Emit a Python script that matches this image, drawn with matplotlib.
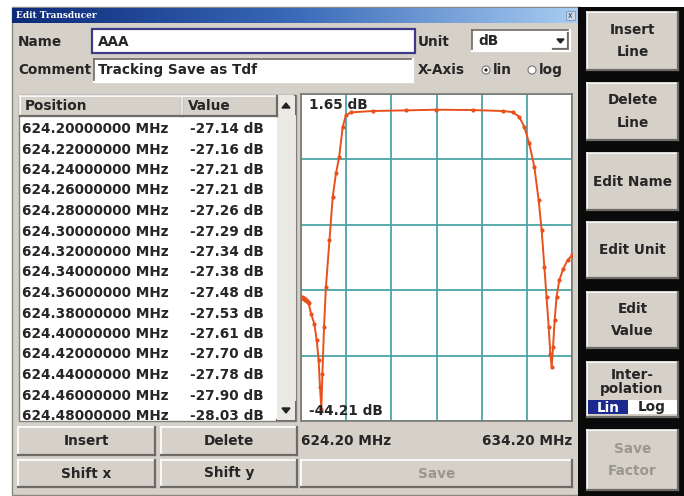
import matplotlib.pyplot as plt
import matplotlib.patches as patches
from matplotlib.colors import LinearSegmentedColormap
import numpy as np

# table rows shown in the list
positions = ["624.20000000 MHz", "624.22000000 MHz", "624.24000000 MHz", "624.26000000 MHz",
             "624.28000000 MHz", "624.30000000 MHz", "624.32000000 MHz", "624.34000000 MHz",
             "624.36000000 MHz", "624.38000000 MHz", "624.40000000 MHz", "624.42000000 MHz",
             "624.44000000 MHz", "624.46000000 MHz", "624.48000000 MHz"]
table_mhz = [624.20, 624.22, 624.24, 624.26, 624.28, 624.30, 624.32, 624.34,
             624.36, 624.38, 624.40, 624.42, 624.44, 624.46, 624.48]
table_db = [-27.14, -27.16, -27.21, -27.21, -27.26, -27.29, -27.34, -27.38,
            -27.48, -27.53, -27.61, -27.70, -27.78, -27.90, -28.03]

# rest of the transducer trace
trace_mhz = [624.57, 624.69, 624.78, 624.85, 624.90, 624.95, 624.99, 625.05, 625.12,
             625.25, 625.37, 625.49, 625.61, 625.74, 625.86, 626.05, 626.84, 628.07,
             629.18, 630.53, 631.64, 632.01, 632.25, 632.44, 632.62, 632.81, 632.97,
             633.08, 633.18, 633.26, 633.34, 633.40, 633.45, 633.50, 633.56, 633.63,
             633.73, 633.88, 634.04, 634.20]
trace_db = [-29.63, -31.17, -33.72, -36.79, -40.89, -44.21, -38.84, -31.68, -25.53,
            -18.37, -11.71, -8.13, -5.57, -0.96, 0.83, 1.24, 1.45, 1.55,
            1.65, 1.60, 1.45, 1.29, 0.57, -0.96, -3.52, -7.10, -12.22,
            -16.83, -22.46, -27.07, -31.68, -35.77, -37.82, -34.75, -30.65, -27.07,
            -24.51, -22.72, -21.44, -20.67]

side_buttons = ["Insert\nLine", "Delete\nLine", "Edit Name", "Edit Unit", "Edit\nValue"]

BG = "#d5d1c9"
TXT = "#262626"
GRID = "#4aa5a8"
TRACE = "#e8501c"
FS = 9.8


def rect(ax, x0, y0, x1, y1, face, edge="none", lw=1.0, z=1):
    ax.add_patch(patches.Rectangle((x0, y0), x1 - x0, y1 - y0, facecolor=face,
                                   edgecolor=edge, linewidth=lw, zorder=z))


def bevel(ax, x0, y0, x1, y1, sunken=False, z=2):
    light, dark = "#ffffff", "#6e6b66"
    if sunken:
        light, dark = dark, light
    ax.plot([x0, x1], [y0, y0], color=light, lw=1.2, zorder=z)
    ax.plot([x0, x0], [y0, y1], color=light, lw=1.2, zorder=z)
    ax.plot([x0, x1], [y1, y1], color=dark, lw=1.6, zorder=z)
    ax.plot([x1, x1], [y0, y1], color=dark, lw=1.6, zorder=z)


def button(ax, x0, y0, x1, y1, label, color=TXT, size=FS):
    rect(ax, x0, y0, x1, y1, BG)
    bevel(ax, x0, y0, x1, y1)
    ax.text((x0 + x1) / 2, (y0 + y1) / 2, label, ha="center", va="center",
            fontsize=size, fontweight="bold", color=color, linespacing=1.8, zorder=3)


def label(ax, x, y, s, **kw):
    kw.setdefault("color", TXT)
    kw.setdefault("va", "center")
    kw.setdefault("zorder", 5)
    return ax.text(x, y, s, fontsize=FS, fontweight="bold", **kw)


fig = plt.figure(figsize=(6.84, 4.96), dpi=100)
ax = fig.add_axes([0, 0, 1, 1])
ax.set_xlim(0, 684)
ax.set_ylim(496, 0)
ax.axis("off")

# dialog body
rect(ax, 12, 7, 580, 495, BG, edge="#8a8780", lw=1.0)

# title bar gradient
grad = np.linspace(0, 1, 256).reshape(1, -1)
cmap = LinearSegmentedColormap.from_list("tb", ["#0c2a78", "#3a6ab8", "#a8cdf2"])
ax.imshow(grad, extent=(12, 578, 23, 8), aspect="auto", cmap=cmap, zorder=2)
ax.text(16, 16, "Edit Transducer", color="white", fontsize=6.5, fontweight="bold",
        va="center", family="DejaVu Serif", zorder=3)
rect(ax, 566, 11, 575, 20, "#c8d8ee", edge="#7f93b8", lw=0.6, z=3)
ax.text(570.5, 15.5, "x", fontsize=5.5, ha="center", va="center", color="#333", zorder=4)

# name / unit row
label(ax, 18, 42, "Name")
rect(ax, 92, 29, 415, 53, "white", edge="#3d3a8c", lw=1.6, z=2)
label(ax, 98, 42, "AAA")
label(ax, 418, 42, "Unit")
rect(ax, 472, 30, 570, 51, "white", z=2)
bevel(ax, 472, 30, 570, 51, sunken=True, z=3)
label(ax, 478, 41, "dB")
button(ax, 553, 33, 568, 49, "")
ax.fill([557, 564, 560.5], [39, 39, 43], color="#222", zorder=4)

# comment / x-axis row
label(ax, 18, 70, "Comment")
rect(ax, 94, 59, 413, 82, "white", z=2)
bevel(ax, 94, 59, 413, 82, sunken=True, z=3)
label(ax, 98, 70, "Tracking Save as Tdf")
label(ax, 418, 70, "X-Axis")
ax.add_patch(patches.Circle((486, 70), 4, facecolor="white", edgecolor="#777", lw=0.8, zorder=3))
ax.add_patch(patches.Circle((486, 70), 1.6, facecolor="#222", zorder=4))
label(ax, 493, 70, "lin")
ax.add_patch(patches.Circle((532, 70), 4, facecolor="white", edgecolor="#777", lw=0.8, zorder=3))
label(ax, 539, 70, "log")

# table
rect(ax, 19, 95, 296, 421, "white", edge="#808080", lw=1.0, z=2)
rect(ax, 20, 96, 277, 116, BG, z=3)
bevel(ax, 20, 96, 182, 116, z=4)
bevel(ax, 182, 96, 277, 116, z=4)
label(ax, 25, 106, "Position")
label(ax, 188, 106, "Value")
rect(ax, 277, 96, 295, 420, "#ebe9e4", z=3)
button(ax, 277, 96, 295, 114, "")
ax.fill([282, 290, 286], [108, 108, 103], color="#222", zorder=4)
button(ax, 277, 402, 295, 420, "")
ax.fill([282, 290, 286], [408, 408, 413], color="#222", zorder=4)
clip = patches.Rectangle((20, 117), 257, 300, transform=ax.transData)
for i, (pos, val) in enumerate(zip(positions, table_db)):
    y = 129 + i * 20.5
    t1 = label(ax, 22, y, pos, zorder=4)
    t2 = label(ax, 190, y, "%.2f dB" % val, zorder=4)
    t1.set_clip_path(clip)
    t2.set_clip_path(clip)

# bottom buttons
button(ax, 18, 427, 155, 455, "Insert")
button(ax, 161, 427, 297, 455, "Delete")
button(ax, 18, 460, 155, 487, "Shift x")
button(ax, 161, 460, 297, 487, "Shift y")
button(ax, 301, 460, 572, 487, "Save", color="#9a9790")
label(ax, 301, 441, "%.2f MHz" % 624.20)
label(ax, 572, 441, "%.2f MHz" % 634.20, ha="right")

# right softkey panel
rect(ax, 578, 7, 684, 496, "#0a0a0a", z=1)
ys = [(12, 70), (83, 140), (153, 210), (222, 278), (292, 348)]
for (y0, y1), lab in zip(ys, side_buttons):
    button(ax, 587, y0, 678, y1, lab)
rect(ax, 587, 362, 678, 417, BG)
bevel(ax, 587, 362, 678, 417)
label(ax, 632, 382, "Inter-\npolation", ha="center", linespacing=1.0, zorder=3)
rect(ax, 588, 400, 628, 414, "#1c2a8e", z=3)
rect(ax, 628, 400, 677, 414, "white", z=3)
label(ax, 608, 407.5, "Lin", color="white", ha="center")
label(ax, 652, 407.5, "Log", ha="center")
button(ax, 587, 430, 678, 490, "Save\nFactor", color="#9a9790")

# graph
gx = fig.add_axes([301 / 684, 1 - 421 / 496, 271 / 684, 327 / 496])
gx.set_facecolor("white")
gx.set_xlim(624.2, 634.2)
gx.set_ylim(-46.11, 4.06)
gx.set_xticks(np.linspace(624.2, 634.2, 7))
gx.set_yticks(np.linspace(-46.11, 4.06, 6))
gx.grid(True, color=GRID, lw=1.3)
gx.tick_params(length=0, labelbottom=False, labelleft=False)
for s in gx.spines.values():
    s.set_color("#7d7a74")
    s.set_linewidth(1.2)
gx.plot(table_mhz + trace_mhz, table_db + trace_db, color=TRACE, lw=1.4,
        marker="o", ms=2, zorder=3)
gx.text(0.03, 0.965, "1.65 dB", transform=gx.transAxes, fontsize=FS, fontweight="bold",
        color=TXT, va="center", zorder=4)
gx.text(0.03, 0.03, "-44.21 dB", transform=gx.transAxes, fontsize=FS, fontweight="bold",
        color=TXT, va="center", zorder=4)

fig.savefig("out.png", dpi=100)
